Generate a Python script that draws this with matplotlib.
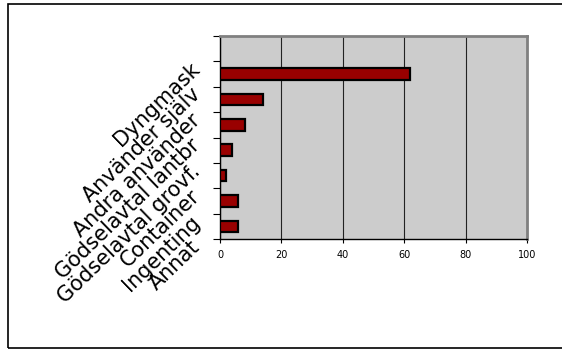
import numpy as np
import matplotlib
matplotlib.use("Agg")
import matplotlib.pyplot as plt
from matplotlib.patches import Rectangle
from matplotlib.transforms import blended_transform_factory

# --- data (top to bottom as drawn) ---
categories = ["Dyngmask", "Använder själv", "Andra använder", "Gödselavtal lantbr",
              "Gödselavtal grovf.", "Container", "Ingenting", "Annat"]
values = [62, 14, 8, 4, 2, 6, 6]   # bars in slots 2..8, top slot empty
xticks = [0, 20, 40, 60, 80, 100]

n_slots = 8

fig = plt.figure(figsize=(5.62, 3.49), dpi=100)
ax = fig.add_axes([0.3915, 0.315, 0.546, 0.582])

# outer chart border (right edge falls outside the picture)
fig.patches.append(Rectangle((8 / 562, 1 - 348 / 349), 1.2, 344 / 349,
                             transform=fig.transFigure, fill=False,
                             edgecolor="black", linewidth=1.2))

ax.set_facecolor("#cccccc")
ypos = np.arange(1, len(values) + 1)
ax.barh(ypos, values, height=0.45, color="#990000", edgecolor="black",
        linewidth=1.6, zorder=3)

ax.set_xlim(0, 100)
ax.set_ylim(n_slots - 0.5, -0.5)
ax.set_xticks(xticks)
ax.set_xticklabels([str(v) for v in xticks], fontsize=7)
ax.set_yticks(np.arange(n_slots + 1) - 0.5)
ax.set_yticklabels([])
ax.tick_params(axis="y", length=5, width=0.8, direction="out")
ax.tick_params(axis="x", length=3, width=0.8, direction="out", pad=5)

ax.xaxis.grid(True, color="#222222", linewidth=0.8)
ax.set_axisbelow(True)
for s in ["top", "right"]:
    ax.spines[s].set_color("#808080")
    ax.spines[s].set_linewidth(2)
for s in ["left", "bottom"]:
    ax.spines[s].set_color("black")
    ax.spines[s].set_linewidth(1)

# rotated category labels (shifted down one slot, as in the original)
trans = blended_transform_factory(fig.transFigure, ax.transData)
for i, lab in enumerate(categories):
    ax.text(197 / 562, i + 0.7, lab, transform=trans, rotation=44,
            rotation_mode="anchor", ha="right", va="center", fontsize=15,
            clip_on=False)

fig.savefig("out.png", dpi=100)
